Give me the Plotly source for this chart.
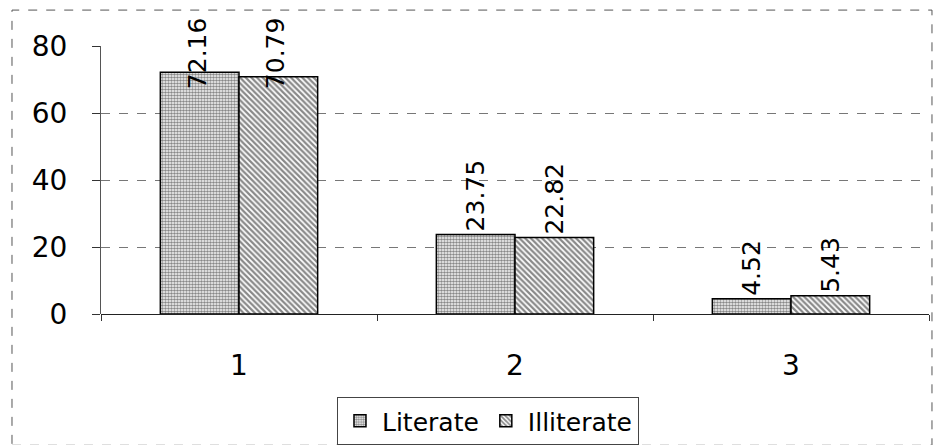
import plotly.graph_objects as go

categories = ["1", "2", "3"]
literate = [72.16, 23.75, 4.52]
illiterate = [70.79, 22.82, 5.43]
literate_labels = ["72.16", "23.75", "4.52"]
illiterate_labels = ["70.79", "22.82", "5.43"]
y_ticks = [0, 20, 40, 60, 80]

FONT = "DejaVu Sans, Arial, sans-serif"
LABEL_FONT = dict(family=FONT, size=25, color="black")

# labels that would run past the chart top are clamped (as in the original)
lit_pos = ["none", "outside", "outside"]
ill_pos = ["none", "outside", "outside"]

fig = go.Figure()
fig.add_bar(
    x=categories, y=literate, name="Literate",
    text=literate_labels, textposition=lit_pos, textangle=-90,
    cliponaxis=False, constraintext="none", textfont=LABEL_FONT,
    marker=dict(color="white", line=dict(color="black", width=1.5),
                pattern=dict(shape=".", fgcolor="#111", bgcolor="white", size=3, solidity=0.6)),
)
fig.add_bar(
    x=categories, y=illiterate, name="Illiterate",
    text=illiterate_labels, textposition=ill_pos, textangle=-90,
    cliponaxis=False, constraintext="none", textfont=LABEL_FONT,
    marker=dict(color="white", line=dict(color="black", width=1.5),
                pattern=dict(shape="\\", fgcolor="#111", bgcolor="white", size=4, solidity=0.55)),
)

annotations = []
for i, p in enumerate(lit_pos):
    if p == "none":
        annotations.append(dict(x=i, xref="x", y=1.115, yref="paper",
                                text=literate_labels[i], textangle=-90, showarrow=False,
                                xanchor="center", yanchor="top", xshift=-42, font=LABEL_FONT))
for i, p in enumerate(ill_pos):
    if p == "none":
        annotations.append(dict(x=i, xref="x", y=1.115, yref="paper",
                                text=illiterate_labels[i], textangle=-90, showarrow=False,
                                xanchor="center", yanchor="top", xshift=36, font=LABEL_FONT))

fig.update_layout(
    width=933, height=445,
    margin=dict(l=101, r=4, t=46, b=131, autoexpand=False),
    paper_bgcolor="white", plot_bgcolor="white",
    barmode="group", bargap=0.43, bargroupgap=0,
    font=dict(family=FONT, size=25, color="black"),
    showlegend=True,
    legend=dict(orientation="h", x=0.285, xanchor="left", y=-0.31, yanchor="top",
                bordercolor="#444", borderwidth=1, font=dict(size=25),
                tracegroupgap=0, itemwidth=34),
    annotations=annotations,
    shapes=[dict(type="rect", xref="paper", yref="paper",
                 x0=-0.1075, x1=1.0036, y0=-0.49, y1=1.134,
                 line=dict(color="#555", width=1, dash="dash"))],
)
fig.update_xaxes(
    type="category", showgrid=False, ticks="outside", tickson="boundaries",
    ticklen=6, tickcolor="#333", showline=False,
    tickfont=dict(size=28), ticklabelstandoff=32,
)
fig.update_yaxes(
    range=[0, 80], tickvals=y_ticks, showgrid=True, gridcolor="#777",
    griddash="dash", gridwidth=1, zeroline=True, zerolinecolor="#222", zerolinewidth=1,
    showline=True, linecolor="#555", linewidth=1,
    ticks="outside", ticklen=8, tickcolor="#333", tickfont=dict(size=28),
    ticklabelstandoff=19,
)

fig.write_html("out.html", config={"displayModeBar": False},
               post_script="document.body.style.margin='0';")
